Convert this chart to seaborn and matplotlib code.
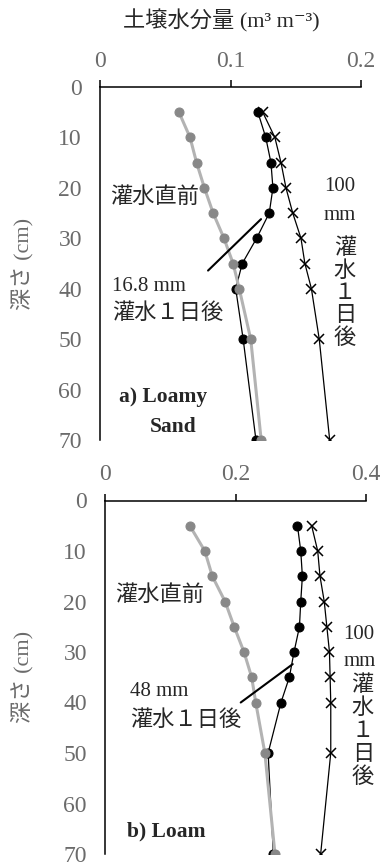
"""
Soil water profiles before and one day after irrigation,
for a loamy sand (a) and a loam (b).
"""

import matplotlib.pyplot as plt
import seaborn as sns


# ---------------------------------------------------------------------------
# Data
# ---------------------------------------------------------------------------

depth_cm = [5, 10, 15, 20, 25, 30, 35, 40, 50, 70]

# a) Loamy Sand
loamy_sand_before = [0.0605, 0.069, 0.074, 0.080, 0.0867, 0.095, 0.102, 0.1067, 0.1155, 0.1235]
loamy_sand_16mm = [0.121, 0.127, 0.131, 0.1325, 0.1297, 0.120, 0.109, 0.104, 0.1097, 0.1195]
loamy_sand_100mm = [0.1247, 0.134, 0.1387, 0.1425, 0.1477, 0.154, 0.157, 0.162, 0.168, 0.176]

# b) Loam
loam_before = [0.130, 0.153, 0.1645, 0.184, 0.198, 0.213, 0.2248, 0.231, 0.245, 0.2605]
loam_48mm = [0.295, 0.300, 0.3025, 0.300, 0.298, 0.2897, 0.2825, 0.2697, 0.250, 0.258]
loam_100mm = [0.3167, 0.326, 0.3295, 0.336, 0.340, 0.344, 0.345, 0.346, 0.346, 0.3305]

depth_ticks = [0, 10, 20, 30, 40, 50, 60, 70]
a_xticks = [0, 0.1, 0.2]
a_xticklabels = ["0", "0.1", "0.2"]
b_xticks = [0, 0.2, 0.4]
b_xticklabels = ["0", "0.2", "0.4"]


# ---------------------------------------------------------------------------
# Plot settings
# ---------------------------------------------------------------------------

sns.set_theme(style="white")

MIXED = ["Liberation Serif", "Noto Sans CJK JP", "DejaVu Serif"]
CJK = ["Noto Sans CJK JP", "DejaVu Sans"]
plt.rcParams["font.family"] = MIXED

TICK_GREY = "#6b6b6b"
LINE_GREY = "#b3b3b3"
MARK_GREY = "#888888"


def draw_profiles(ax, before, after_small, after_100, xticks, xticklabels):
    """Draw the three profiles and style the axes of one panel."""
    sns.lineplot(x=after_100, y=depth_cm, orient="y", ax=ax, color="black",
                 linewidth=0.9, marker="x", markersize=7, markeredgewidth=1.1,
                 markeredgecolor="black")
    sns.lineplot(x=after_small, y=depth_cm, orient="y", ax=ax, color="black",
                 linewidth=0.9, marker="o", markersize=6.5,
                 markeredgecolor="black")
    sns.lineplot(x=before, y=depth_cm, orient="y", ax=ax, color=LINE_GREY,
                 linewidth=2.2, marker="o", markersize=6.5,
                 markerfacecolor=MARK_GREY, markeredgecolor=MARK_GREY)

    ax.set_xlim(xticks[0], xticks[-1])
    ax.set_ylim(70, 0)
    ax.xaxis.tick_top()
    ax.set_xticks(xticks)
    ax.set_xticklabels(xticklabels)
    ax.set_yticks(depth_ticks)
    ax.tick_params(axis="both", direction="out", length=5, width=1.1,
                   color="black", labelsize=17, labelcolor=TICK_GREY, pad=8)
    ax.tick_params(axis="x", pad=6)

    for side in ("right", "bottom"):
        ax.spines[side].set_visible(False)
    for side in ("top", "left"):
        ax.spines[side].set_color("black")
        ax.spines[side].set_linewidth(1.1)

    ax.set_xlabel("")
    ax.set_ylabel("深さ (cm)", fontsize=16, color=TICK_GREY)


def vertical_label(ax, x, y0, step):
    """Write 灌水１日後 top to bottom, one character per line."""
    for i, ch in enumerate("灌水１日後"):
        ax.text(x, y0 + i * step, ch, family=CJK, fontsize=16,
                ha="center", va="center")


# ---------------------------------------------------------------------------
# Figure
# ---------------------------------------------------------------------------

fig = plt.figure(figsize=(3.85, 8.64), dpi=100)
ax_a = fig.add_axes([100 / 385, 1 - 440 / 864, 261 / 385, 353 / 864])
ax_b = fig.add_axes([105 / 385, 1 - 854 / 864, 261 / 385, 353.5 / 864])

draw_profiles(ax_a, loamy_sand_before, loamy_sand_16mm, loamy_sand_100mm,
              a_xticks, a_xticklabels)
draw_profiles(ax_b, loam_before, loam_48mm, loam_100mm,
              b_xticks, b_xticklabels)

# the label anchor is its right-hand edge once rotated
ax_a.yaxis.set_label_coords(-0.255, 0.5)
ax_b.yaxis.set_label_coords(-0.275, 0.5)

fig.text(221 / 385, 1 - 21 / 864, "土壌水分量 (m³ m⁻³)", fontsize=16,
         ha="center", va="center")

# panel a annotations
ax_a.text(0.0077, 21.8, "灌水直前", family=CJK, fontsize=16, va="center")
ax_a.text(0.184, 19.8, "100", fontsize=15, ha="center", va="center")
ax_a.text(0.184, 25.4, "mm", fontsize=15, ha="center", va="center")
vertical_label(ax_a, 0.1877, 31.9, 4.42)
ax_a.text(0.0092, 39.5, "16.8 mm", fontsize=15, va="center")
ax_a.text(0.0092, 44.8, "灌水１日後", family=CJK, fontsize=16, va="center")
ax_a.plot([0.0828, 0.1234], [36.4, 26.2], color="black", linewidth=1.5)
ax_a.text(0.0483, 61.5, "a) Loamy", fontsize=15.5, fontweight="bold",
          ha="center", va="center")
ax_a.text(0.056, 67.4, "Sand", fontsize=15.5, fontweight="bold",
          ha="center", va="center")

# panel b annotations
ax_b.text(0.0153, 18.7, "灌水直前", family=CJK, fontsize=16, va="center")
ax_b.text(0.389, 26.6, "100", fontsize=15, ha="center", va="center")
ax_b.text(0.391, 31.9, "mm", fontsize=15, ha="center", va="center")
vertical_label(ax_b, 0.395, 36.5, 4.55)
ax_b.text(0.0383, 37.9, "48 mm", fontsize=15, va="center")
ax_b.text(0.0383, 43.4, "灌水１日後", family=CJK, fontsize=16, va="center")
ax_b.plot([0.208, 0.2877], [40.0, 32.4], color="black", linewidth=1.5)
ax_b.text(0.0337, 65.6, "b) Loam", fontsize=15.5, fontweight="bold",
          va="center")

fig.savefig("out.png", dpi=100)
